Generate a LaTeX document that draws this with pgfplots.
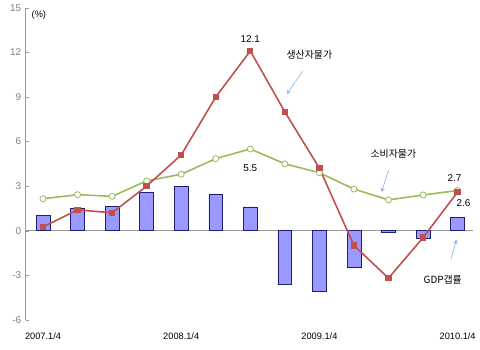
\documentclass[border=0pt]{standalone}
\usepackage{pgfplots}
\pgfplotsset{compat=1.18}
\usepackage{fontspec}
\setmainfont{Liberation Sans}
\newfontfamily\kr{Noto Sans CJK KR}
\definecolor{barfill}{HTML}{9999FF}
\definecolor{bardraw}{HTML}{1F1F6F}
\definecolor{ppi}{HTML}{C0504D}
\definecolor{cpi}{HTML}{9BBB59}
\definecolor{arr}{HTML}{8DB4E2}
\pgfplotstableread{
x gap ppi cpi
0 1.02 0.25 2.15
1 1.53 1.4 2.42
2 1.64 1.2 2.31
3 2.6 3.0 3.35
4 3.0 5.1 3.8
5 2.47 9.0 4.85
6 1.6 12.1 5.5
7 -3.62 8.0 4.5
8 -4.09 4.2 3.9
9 -2.47 -1.0 2.8
10 -0.1 -3.2 2.07
11 -0.55 -0.47 2.4
12 0.87 2.6 2.7
}\datatable
\begin{document}
\begin{tikzpicture}
\begin{axis}[
  at={(0,0)}, anchor=south west,
  scale only axis, width=339pt, height=236.25pt,
  xmin=-0.5, xmax=12.45, ymin=-6, ymax=15,
  clip=false,
  axis lines=left,
  axis line style={-},
  x axis line style={draw=none},
  y axis line style={draw=gray!80},
  xtick={0,4,8,12},
  xticklabels={2007.1/4,2008.1/4,2009.1/4,2010.1/4},
  xtick style={draw=none},
  ytick={-6,-3,0,3,6,9,12,15},
  ytick style={draw=gray!80},
  tick align=inside,
  major tick length=2.25pt,
  xticklabel style={font=\fontsize{7}{8}\selectfont, yshift=-6pt},
  yticklabel style={font=\fontsize{7.5}{9}\selectfont, text=gray},
  /pgf/number format/assume math mode=true,
]
\addplot[gray!80, line width=0.6pt] coordinates {(-0.5,0) (12.45,0)};
\addplot[ybar, bar width=10.5pt, fill=barfill, draw=bardraw, line width=0.5pt] table[x=x,y=gap] {\datatable};
\addplot[cpi, line width=1.2pt, mark=*, mark size=2.3pt, mark options={fill=white, draw=cpi, line width=0.6pt}] table[x=x,y=cpi] {\datatable};
\addplot[ppi, line width=1.2pt, mark=square*, mark size=1.8pt, mark options={fill=ppi}] table[x=x,y=ppi] {\datatable};
\node[font=\fontsize{7}{8}\selectfont] at (axis cs:-0.12,14.5) {(\%)};
\node[font=\fontsize{7.5}{9}\selectfont] at (axis cs:6,12.87) {12.1};
\node[font=\fontsize{7.5}{9}\selectfont] at (axis cs:6,4.2) {5.5};
\node[font=\kr\fontsize{7.5}{9}\selectfont] at (axis cs:7.71,11.87) {생산자물가};
\node[font=\kr\fontsize{7.5}{9}\selectfont] at (axis cs:10.14,5.17) {소비자물가};
\node[font=\fontsize{7.5}{9}\selectfont] at (axis cs:11.91,3.53) {2.7};
\node[font=\fontsize{7.5}{9}\selectfont] at (axis cs:12.17,1.87) {2.6};
\node[font=\kr\fontsize{7.5}{9}\selectfont] at (axis cs:11.57,-3.33) {GDP갭률};
\draw[arr, -stealth, line width=0.5pt] (axis cs:7.51,10.73) -- (axis cs:7.06,9.2);
\draw[arr, -stealth, line width=0.5pt] (axis cs:10.0,4.07) -- (axis cs:9.8,2.6);
\draw[arr, -stealth, line width=0.5pt] (axis cs:11.8,-1.93) -- (axis cs:11.97,-0.6);
\end{axis}
\path (-19.5pt,-22.5pt) rectangle (340.5pt,242.25pt);
\end{tikzpicture}
\end{document}
